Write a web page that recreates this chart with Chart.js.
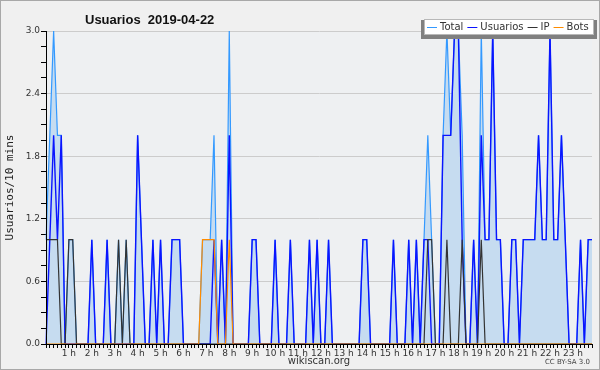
<!DOCTYPE html>
<html>
<head>
<meta charset="utf-8">
<script src="https://cdn.jsdelivr.net/npm/chart.js@4.4.0/dist/chart.umd.min.js"></script>
<style>
  html, body { margin: 0; padding: 0; background: #f0f0f0; }
  #wrap { width: 600px; height: 370px; }
</style>
</head>
<body>
<div id="wrap"><canvas id="chart" width="600" height="370"></canvas></div>
<script>
// 10-minute slots of the day, 00:00 .. 23:50
const slots = [];
for (let h = 0; h < 24; h++) {
  for (let m = 0; m < 60; m += 10) {
    slots.push(String(h).padStart(2, '0') + ':' + String(m).padStart(2, '0'));
  }
}

// values, one per slot
const total = [
  1,2,3,2,2,0, 1,1,0,0,0,0,
  1,0,0,0,1,0, 0,1,0,1,0,0,
  2,1,0,0,1,0, 1,0,0,1,1,1,
  0,0,0,0,0,1, 1,1,2,0,1,0,
  3,0,0,0,0,0, 1,1,0,0,0,0,
  1,0,0,0,1,0, 0,0,0,1,0,1,
  0,0,1,0,0,0, 0,0,0,0,0,1,
  1,0,0,0,0,0, 0,1,0,0,0,1,
  0,1,0,1,2,1, 0,0,2,3,2,3,
  3,2,0,0,1,0, 3,1,1,3,1,1,
  0,0,1,1,0,1, 1,1,1,2,1,1,
  3,1,1,2,1,0, 0,0,1,0,1,1
];
const usuarios = [
  0,1,2,1,2,0, 0,0,0,0,0,0,
  1,0,0,0,1,0, 0,0,0,0,0,0,
  2,1,0,0,1,0, 1,0,0,1,1,1,
  0,0,0,0,0,0, 0,0,1,0,1,0,
  2,0,0,0,0,0, 1,1,0,0,0,0,
  1,0,0,0,1,0, 0,0,0,1,0,1,
  0,0,1,0,0,0, 0,0,0,0,0,1,
  1,0,0,0,0,0, 0,1,0,0,0,1,
  0,1,0,1,1,0, 0,0,2,2,2,3,
  3,1,0,0,1,0, 2,1,1,3,1,1,
  0,0,1,1,0,1, 1,1,1,2,1,1,
  3,1,1,2,1,0, 0,0,1,0,1,1
];
const ip = [
  1,1,1,1,0,0, 1,1,0,0,0,0,
  0,0,0,0,0,0, 0,1,0,1,0,0,
  0,0,0,0,0,0, 0,0,0,0,0,0,
  0,0,0,0,0,0, 0,0,0,0,0,0,
  0,0,0,0,0,0, 0,0,0,0,0,0,
  0,0,0,0,0,0, 0,0,0,0,0,0,
  0,0,0,0,0,0, 0,0,0,0,0,0,
  0,0,0,0,0,0, 0,0,0,0,0,0,
  0,0,0,0,1,1, 0,0,0,1,0,0,
  0,1,0,0,0,0, 1,0,0,0,0,0,
  0,0,0,0,0,0, 0,0,0,0,0,0,
  0,0,0,0,0,0, 0,0,0,0,0,0
];
const bots = [
  0,0,0,0,0,0, 0,0,0,0,0,0,
  0,0,0,0,0,0, 0,0,0,0,0,0,
  0,0,0,0,0,0, 0,0,0,0,0,0,
  0,0,0,0,0,1, 1,1,1,0,0,0,
  1,0,0,0,0,0, 0,0,0,0,0,0,
  0,0,0,0,0,0, 0,0,0,0,0,0,
  0,0,0,0,0,0, 0,0,0,0,0,0,
  0,0,0,0,0,0, 0,0,0,0,0,0,
  0,0,0,0,0,0, 0,0,0,0,0,0,
  0,0,0,0,0,0, 0,0,0,0,0,0,
  0,0,0,0,0,0, 0,0,0,0,0,0,
  0,0,0,0,0,0, 0,0,0,0,0,0
];

const yMax = 3;
const yStep = 0.15;      // minor tick marks
const yLabelStep = 0.6;  // labelled ticks + grid lines

const isMajor = v => Math.round(v * 100) % Math.round(yLabelStep * 100) === 0;

// background, frame, title, legend and licence text
const decor = {
  id: 'decor',
  beforeDraw(chart) {
    const {ctx, chartArea: a} = chart;
    ctx.save();
    ctx.fillStyle = '#f0f0f0';
    ctx.fillRect(0, 0, chart.width, chart.height);
    ctx.fillStyle = '#eef0f2';
    ctx.fillRect(a.left, a.top, a.right - a.left, a.bottom - a.top);
    ctx.restore();
  },
  afterDatasetsDraw(chart) {
    // axis lines stay on top of the series
    const {ctx, chartArea: a} = chart;
    ctx.save();
    ctx.strokeStyle = '#000';
    ctx.lineWidth = 1;
    ctx.beginPath();
    ctx.moveTo(a.left + 0.5, a.top);
    ctx.lineTo(a.left + 0.5, a.bottom + 0.5);
    ctx.lineTo(a.right, a.bottom + 0.5);
    ctx.stroke();
    ctx.restore();
  },
  afterDraw(chart) {
    const {ctx} = chart;
    ctx.save();
    ctx.strokeStyle = '#a8a8a8';
    ctx.lineWidth = 1;
    ctx.strokeRect(0.5, 0.5, chart.width - 1, chart.height - 1);

    ctx.fillStyle = '#111';
    ctx.font = 'bold 13px "Liberation Sans", sans-serif';
    ctx.textBaseline = 'alphabetic';
    ctx.fillText('Usuarios  2019-04-22', 85, 24);

    // legend box
    const bx = 424, by = 19, bw = 170, bh = 16;
    ctx.fillStyle = '#808080';
    ctx.fillRect(bx - 3, by + 1, bw + 6, bh + 3);
    ctx.fillStyle = '#ffffff';
    ctx.fillRect(bx, by, bw, bh);
    ctx.strokeStyle = '#b8b8b8';
    ctx.strokeRect(bx + 0.5, by + 0.5, bw - 1, bh - 1);
    ctx.font = '10px "DejaVu Sans", sans-serif';
    ctx.textBaseline = 'middle';
    let x = bx + 3;
    const ly = by + bh / 2 + 0.5;
    chart.data.datasets.slice().reverse().forEach(ds => {
      ctx.strokeStyle = ds.borderColor;
      ctx.lineWidth = 1;
      ctx.beginPath();
      ctx.moveTo(x, ly);
      ctx.lineTo(x + 10, ly);
      ctx.stroke();
      x += 13;
      ctx.fillStyle = '#333';
      ctx.fillText(ds.label, x, ly);
      x += ctx.measureText(ds.label).width + 4;
    });

    ctx.font = '7px "DejaVu Sans", sans-serif';
    ctx.fillStyle = '#444';
    ctx.textAlign = 'right';
    ctx.textBaseline = 'alphabetic';
    ctx.fillText('CC BY-SA 3.0', 590, 364);
    ctx.restore();
  }
};

new Chart(document.getElementById('chart'), {
  type: 'line',
  data: {
    labels: slots,
    datasets: [
      { label: 'Bots', data: bots, borderColor: '#ff8c00', borderWidth: 1.2, fill: false },
      { label: 'IP', data: ip, borderColor: '#333333', borderWidth: 1.2, fill: false },
      { label: 'Usuarios', data: usuarios, borderColor: '#0a14ff', borderWidth: 1.4, fill: false },
      { label: 'Total', data: total, borderColor: '#3399ff', borderWidth: 1.2,
        fill: 'origin', backgroundColor: '#c6dcf0' }
    ]
  },
  options: {
    responsive: false,
    animation: false,
    layout: { padding: { top: 31, right: 8, left: 0, bottom: 0 } },
    elements: { point: { radius: 0 }, line: { tension: 0 } },
    plugins: { legend: { display: false }, title: { display: false }, tooltip: { enabled: false } },
    scales: {
      x: {
        offset: false,
        afterFit(s) { s.height = 26; },
        grid: { drawOnChartArea: false, tickLength: 4, tickColor: '#000' },
        border: { color: '#000', width: 1 },
        ticks: {
          autoSkip: false, maxRotation: 0, minRotation: 0, padding: 0,
          color: '#333', font: { family: 'DejaVu Sans', size: 9 },
          callback: (v, i) => (i > 0 && i % 6 === 0) ? (i / 6) + ' h' : ''
        },
        title: { display: true, text: 'wikiscan.org', color: '#333',
          font: { family: 'DejaVu Sans', size: 10 }, padding: { top: 0, bottom: 3 } }
      },
      y: {
        min: 0, max: yMax,
        afterFit(s) { s.width = 46; },
        grid: {
          tickLength: 5, tickColor: '#000',
          color: c => (isMajor(c.tick.value) && c.tick.value > 0) ? '#cccccc' : 'rgba(0,0,0,0)'
        },
        border: { color: '#000', width: 1 },
        ticks: {
          stepSize: yStep, autoSkip: false, padding: 1,
          color: '#333', font: { family: 'DejaVu Sans', size: 9 },
          callback: v => isMajor(v) ? v.toFixed(1) : ''
        },
        title: { display: true, text: 'Usuarios/10 mins', color: '#222',
          font: { family: 'DejaVu Sans Mono', size: 11 }, padding: { top: 4, bottom: 0 } }
      }
    }
  },
  plugins: [decor]
});
</script>
</body>
</html>
